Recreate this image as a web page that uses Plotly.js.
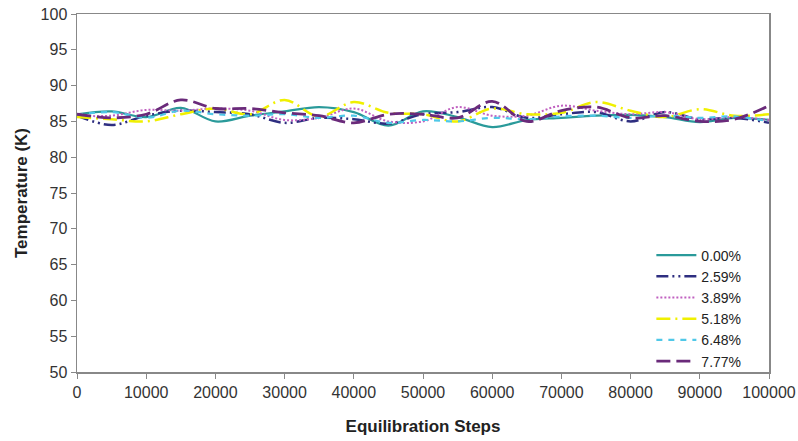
<!DOCTYPE html>
<html>
<head>
<meta charset="utf-8">
<script src="https://cdn.plot.ly/plotly-3.0.1.min.js"></script>
<style>html,body{margin:0;padding:0;background:#fff}#chart{width:798px;height:441px}</style>
</head>
<body>
<div id="chart"></div>
<script>
const steps = [0,5000,10000,15000,20000,25000,30000,35000,40000,45000,50000,55000,60000,65000,70000,75000,80000,85000,90000,95000,100000];
const seriesNames = ["0.00%","2.59%","3.89%","5.18%","6.48%","7.77%"];
const t000 = [86.0,86.4,85.6,86.9,85.0,85.8,86.4,87.0,86.3,84.4,86.4,85.6,84.2,85.2,85.5,85.8,85.9,85.6,84.9,85.5,85.2];
const t259 = [85.8,84.5,85.8,86.5,86.3,86.0,84.8,85.5,85.3,84.7,86.0,86.3,87.0,85.5,86.0,86.3,85.0,86.3,85.3,85.5,84.8];
const t389 = [85.8,85.8,86.6,86.5,86.8,86.5,85.2,85.5,86.8,85.0,85.0,87.0,85.8,85.8,87.2,86.5,86.0,86.3,85.3,85.6,85.2];
const t518 = [85.6,85.3,85.0,86.0,86.8,86.0,88.0,85.7,87.7,86.2,86.0,85.0,86.8,86.0,86.2,87.7,86.5,85.6,86.7,85.8,86.0];
const t648 = [85.9,86.3,85.5,86.5,86.0,85.8,86.0,85.5,85.8,84.8,85.2,85.0,85.5,85.3,85.7,85.8,85.5,85.8,85.5,85.7,85.0];
const t777 = [86.0,85.5,86.0,88.0,86.8,86.8,86.2,85.8,84.8,86.0,86.0,85.5,87.8,85.0,86.5,87.0,85.5,85.8,85.0,85.3,87.2];
const xTicks = [0,10000,20000,30000,40000,50000,60000,70000,80000,90000,100000];
const yTicks = [50,55,60,65,70,75,80,85,90,95,100];

const allY = [t000,t259,t389,t518,t648,t777];
const colors = ["#2a9a9a","#2e2e80","#c060c0","#f0f000","#50c8e8","#6a2a7a"];
const dashes = ["solid","12px,4px,2px,4px,2px,4px","2px,2px","14px,5px,2px,5px","6px,6px","14px,6px"];
const widths = [2.2,2.5,2,2.5,2.2,2.8];

const traces = allY.map((y,i)=>({
  x: steps, y: y, name: seriesNames[i], type:'scatter', mode:'lines',
  line:{color:colors[i], dash:dashes[i], width:widths[i], shape:'spline', smoothing:1}
}));

const layout = {
  width:798, height:441,
  margin:{l:77,r:29,t:14,b:69},
  paper_bgcolor:'#fff', plot_bgcolor:'#fff',
  font:{family:'Liberation Sans, Arial, sans-serif', size:15, color:'#222'},
  xaxis:{range:[0,100000], tickvals:xTicks, ticktext:xTicks.map(String), showgrid:false, zeroline:false,
    showline:true, linecolor:'#888', linewidth:1.5, mirror:true, ticks:'outside', ticklen:5, tickcolor:'#888',
    tickfont:{size:16, color:'#333'},
    title:{text:'<b>Equilibration Steps</b>', font:{size:17, color:'#222'}, standoff:20}},
  yaxis:{range:[50,100], tickvals:yTicks, ticktext:yTicks.map(String), showgrid:false, zeroline:false,
    showline:true, linecolor:'#888', linewidth:1.5, mirror:true, ticks:'outside', ticklen:5, tickcolor:'#888',
    tickfont:{size:16, color:'#333'},
    title:{text:'<b>Temperature (K)</b>', font:{size:17, color:'#222'}, standoff:8}},
  legend:{x:0.83, y:0.37, xanchor:'left', yanchor:'top', bgcolor:'rgba(0,0,0,0)', font:{size:14, color:'#222'}, tracegroupgap:0, itemwidth:40},
  showlegend:true
};
Plotly.newPlot('chart', traces, layout, {displayModeBar:false, staticPlot:true});
</script>
</body>
</html>
